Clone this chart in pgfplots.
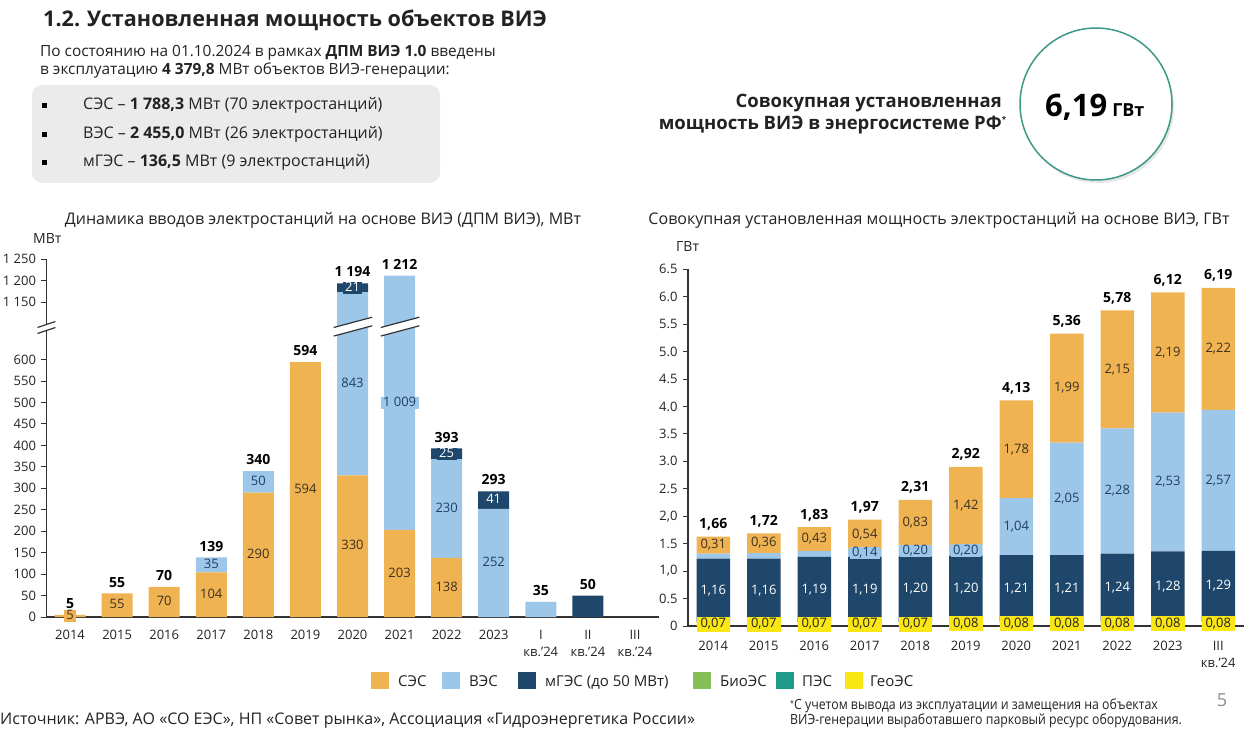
\documentclass[border=0pt]{standalone}
\usepackage{fontspec}
\setmainfont{Open Sans}
\newfontfamily\nfont{Open Sans}[FakeStretch=0.88]
\usepackage{pgfplots}
\usepackage{pgfplotstable}
\pgfplotsset{compat=1.18}
\usetikzlibrary{shadows}

\definecolor{ses}{HTML}{F0B352}
\definecolor{ves}{HTML}{9DC7E9}
\definecolor{mges}{HTML}{1F476B}
\definecolor{bio}{HTML}{86BF56}
\definecolor{pes}{HTML}{1E9C89}
\definecolor{geo}{HTML}{F9E614}
\definecolor{txt}{HTML}{222222}
\definecolor{sestxt}{HTML}{3D3020}
\definecolor{vestxt}{HTML}{1F3F66}
\definecolor{boxgray}{HTML}{EBEBEB}
\definecolor{ring}{HTML}{3C9A86}
\definecolor{axisc}{HTML}{333333}

\newcommand\fs[1]{\fontsize{#1}{#1}\selectfont}
\def\lbcol{white}
\NewDocumentCommand\lb{m}{{\setlength\fboxsep{0pt}\colorbox{\lbcol}{\hspace*{2.5pt}#1\hspace*{2.5pt}\rule[-2.5pt]{0pt}{12.5pt}}}}
\NewDocumentCommand\tb{m}{\textbf{#1}}
\NewDocumentCommand\no{}{}

% Left chart: inputs, MW. The ВЭС values of 2020 and 2021 are drawn above the
% axis break (scale shifted by 416 MW): 843 -> 427, 1009 -> 593.
\pgfplotstableread[col sep=semicolon]{
x;ses;ves;mges;sesl;vesl;mgesl;totl
0;5;0;0;\lb{5};\no;\no;\tb{5}
1;55;0;0;\lb{55};\no;\no;\tb{55}
2;70;0;0;\lb{70};\no;\no;\tb{70}
3;104;35;0;\lb{104};\lb{35};\no;\tb{139}
4;290;50;0;\lb{290};\lb{50};\no;\tb{340}
5;594;0;0;\lb{594};\no;\no;\tb{594}
6;330;427;21;\lb{330};\lb{843};\lb{21};\tb{1 194}
7;203;593;0;\lb{203};\lb{1 009};\no;\tb{1 212}
8;138;230;25;\lb{138};\lb{230};\lb{25};\tb{393}
9;0;252;41;\no;\lb{252};\lb{41};\tb{293}
10;0;35;0;\no;\no;\no;\tb{35}
11;0;0;50;\no;\no;\no;\tb{50}
12;0;0;0;\no;\no;\no;\no
}\leftdata

% Right chart: cumulative capacity, GW
\pgfplotstableread[col sep=semicolon]{
x;geo;mges;ves;ses;geol;mgesl;vesl;sesl;totl
0;0.07;1.16;0.09;0.31;0,07;\lb{1,16};\no;\lb{0,31};\tb{1,66}
1;0.07;1.16;0.10;0.36;0,07;\lb{1,16};\no;\lb{0,36};\tb{1,72}
2;0.07;1.19;0.11;0.43;0,07;\lb{1,19};\no;\lb{0,43};\tb{1,83}
3;0.07;1.19;0.14;0.54;0,07;\lb{1,19};\lb{0,14};\lb{0,54};\tb{1,97}
4;0.07;1.20;0.20;0.83;0,07;\lb{1,20};\lb{0,20};\lb{0,83};\tb{2,31}
5;0.08;1.20;0.20;1.42;0,08;\lb{1,20};\lb{0,20};\lb{1,42};\tb{2,92}
6;0.08;1.21;1.04;1.78;0,08;\lb{1,21};\lb{1,04};\lb{1,78};\tb{4,13}
7;0.08;1.21;2.05;1.99;0,08;\lb{1,21};\lb{2,05};\lb{1,99};\tb{5,36}
8;0.08;1.24;2.28;2.15;0,08;\lb{1,24};\lb{2,28};\lb{2,15};\tb{5,78}
9;0.08;1.28;2.53;2.19;0,08;\lb{1,28};\lb{2,53};\lb{2,19};\tb{6,12}
10;0.08;1.29;2.57;2.22;0,08;\lb{1,29};\lb{2,57};\lb{2,22};\tb{6,19}
}\rightdata

\pgfplotsset{
  leftgeom/.style={at={(46.5pt,112pt)}, anchor=south west, scale only axis,
    width=612pt, height=357.7pt, xmin=-0.5, xmax=12.5, ymin=0, ymax=834, clip=false},
  rightgeom/.style={at={(688pt,103pt)}, anchor=south west, scale only axis,
    width=555.5pt, height=356.7pt, xmin=-0.5, xmax=10.5, ymin=0, ymax=6.5, clip=false},
  common/.style={axis x line=bottom, axis y line=left,
    axis line style={-, line width=1.2pt, color=axisc},
    xtick style={draw=none}, ytick style={line width=1pt, color=axisc},
    tick align=outside, major tick length=5pt,
    xticklabel style={align=center, font=\fontsize{13}{17}\selectfont, text=txt, inner sep=1pt},
    yticklabel style={font=\fs{13}, text=txt, xshift=-2pt}},
  labels/.style={ybar, bar shift=0pt, bar width=1pt, hide axis},
  lab/.style={draw=none, fill=none, nodes near coords, point meta=explicit symbolic,
    every node near coord/.append style={anchor=center, inner sep=0pt, font=\fs{13},
      execute at begin node={\def\lbcol{#1}}}},
  tot/.style={draw=none, fill=none, nodes near coords, point meta=explicit symbolic,
    every node near coord/.append style={anchor=south, inner sep=0pt,
      font=\fs{14}, text=black, yshift=6pt}},
}

\begin{document}
\begin{tikzpicture}[x=1pt,y=1pt]
\useasboundingbox (0,0) rectangle (1248,729);

% ---------- header ----------
\node[anchor=base west,inner sep=0,text=txt] at (43,702) {\fs{21.6}\bfseries 1.2.\hspace{7pt}Установленная мощность объектов ВИЭ};
\node[anchor=base west,inner sep=0,text=txt] at (40,672) {\fs{15.4}По состоянию на 01.10.2024 в рамках \textbf{ДПМ ВИЭ 1.0} введены};
\node[anchor=base west,inner sep=0,text=txt] at (40,654) {\fs{15.4}в эксплуатацию \textbf{4 379,8} МВт объектов ВИЭ-генерации:};
\fill[boxgray, rounded corners=10pt] (32,546) rectangle (440,644);
\fill[black] (42,621) rectangle (46.5,625.5);
\fill[black] (42,592) rectangle (46.5,596.5);
\fill[black] (42,564) rectangle (46.5,568.5);
\node[anchor=base west,inner sep=0,text=txt] at (83,619) {\fs{16}СЭС – \textbf{1 788,3} МВт (70 электростанций)};
\node[anchor=base west,inner sep=0,text=txt] at (83,590) {\fs{16}ВЭС – \textbf{2 455,0} МВт (26 электростанций)};
\node[anchor=base west,inner sep=0,text=txt] at (83,562) {\fs{16}мГЭС – \textbf{136,5} МВт (9 электростанций)};

\node[anchor=base east,inner sep=0,text=txt] at (1002,621) {\fs{18.5}\bfseries Совокупная установленная};
\node[anchor=base east,inner sep=0,text=txt] at (1002,599) {\fs{18.5}\bfseries мощность ВИЭ в энергосистеме РФ\rlap{\raisebox{7pt}{\fs{8}*}}};
\draw[ring, line width=1.5pt, fill=white, drop shadow={opacity=0.2, shadow xshift=2pt, shadow yshift=-3pt}] (1096,625) circle (76);
\node[anchor=base west,inner sep=0,text=black] at (1045,612) {\fs{31}\bfseries 6,19\hspace{5pt}{\fs{18}ГВт}};

% ---------- chart titles ----------
\node[text=txt] at (323,509) {\fs{16}Динамика вводов электростанций на основе ВИЭ (ДПМ ВИЭ), МВт};
\node[anchor=west,inner sep=0,text=txt] at (33,490) {\fs{14}МВт};
\node[text=txt] at (939,509) {\fs{16}Совокупная установленная мощность электростанций на основе ВИЭ, ГВт};
\node[anchor=west,inner sep=0,text=txt] at (676,482) {\fs{14}ГВт};

% ---------- left chart: bars ----------
\begin{axis}[leftgeom, common, ybar stacked, bar width=31pt,
  xtick={0,...,12},
  xticklabels={2014,2015,2016,2017,2018,2019,2020,2021,2022,2023,{I\\кв.'24},{II\\кв.'24},{III\\кв.'24}},
  xticklabel style={yshift=-7pt},
  ytick={0,50,100,150,200,250,300,350,400,450,500,550,600,734,784,834},
  yticklabels={0,50,100,150,200,250,300,350,400,450,500,550,600,1 150,1 200,1 250}]
\addplot[fill=ses, draw=none] table[x=x,y=ses]{\leftdata};
\addplot[fill=ves, draw=none] table[x=x,y=ves]{\leftdata};
\addplot[fill=mges, draw=none] table[x=x,y=mges]{\leftdata};
\end{axis}
% ---------- left chart: labels and breaks ----------
\begin{axis}[leftgeom, labels]
\addplot[lab=ses, every node near coord/.append style={text=sestxt}]
  table[x=x, y expr=\thisrow{ses}/2, meta=sesl]{\leftdata};
\addplot[lab=ves, every node near coord/.append style={text=vestxt}]
  table[x=x, y expr=\thisrow{ses}+\thisrow{ves}/2, meta=vesl]{\leftdata};
\addplot[lab=mges, every node near coord/.append style={text=white}]
  table[x=x, y expr=\thisrow{ses}+\thisrow{ves}+\thisrow{mges}/2, meta=mgesl]{\leftdata};
\addplot[tot] table[x=x, y expr=\thisrow{ses}+\thisrow{ves}+\thisrow{mges}, meta=totl]{\leftdata};
% bar breaks
\fill[white] (axis cs:5.6,655) -- (axis cs:6.42,679) -- (axis cs:6.42,699) -- (axis cs:5.6,675) -- cycle;
\draw[line width=1.2pt, axisc] (axis cs:5.6,655) -- (axis cs:6.42,679) (axis cs:5.6,675) -- (axis cs:6.42,699);
\fill[white] (axis cs:6.6,655) -- (axis cs:7.42,679) -- (axis cs:7.42,699) -- (axis cs:6.6,675) -- cycle;
\draw[line width=1.2pt, axisc] (axis cs:6.6,655) -- (axis cs:7.42,679) (axis cs:6.6,675) -- (axis cs:7.42,699);
% axis break
\fill[white] (axis cs:-0.69,661) -- (axis cs:-0.31,675) -- (axis cs:-0.31,689) -- (axis cs:-0.69,675) -- cycle;
\draw[line width=1.2pt, axisc] (axis cs:-0.69,661) -- (axis cs:-0.31,675) (axis cs:-0.69,675) -- (axis cs:-0.31,689);
\end{axis}

% ---------- right chart: bars ----------
\begin{axis}[rightgeom, common, ybar stacked, bar width=33.5pt,
  xtick={0,...,10},
  xticklabels={2014,2015,2016,2017,2018,2019,2020,2021,2022,2023,{III\\кв.'24}},
  xticklabel style={yshift=-9pt},
  ytick={0,0.5,1,1.5,2,2.5,3,3.5,4,4.5,5,5.5,6,6.5},
  yticklabels={0,0.5,{1,0},1.5,{2,0},2.5,3.0,3.5,4.0,4.5,5.0,5.5,6.0,6.5}]
\addplot[fill=geo, draw=none] table[x=x,y=geo]{\rightdata};
\addplot[fill=mges, draw=none] table[x=x,y=mges]{\rightdata};
\addplot[fill=ves, draw=none] table[x=x,y=ves]{\rightdata};
\addplot[fill=ses, draw=none] table[x=x,y=ses]{\rightdata};
\end{axis}
% ---------- right chart: labels ----------
\begin{axis}[rightgeom, labels]
\addplot[lab=geo, every node near coord/.append style={fill=geo, text=txt, minimum width=33.5pt, minimum height=15pt}]
  table[x=x, y expr=\thisrow{geo}/2, meta=geol]{\rightdata};
\addplot[lab=mges, every node near coord/.append style={text=white}]
  table[x=x, y expr=\thisrow{geo}+\thisrow{mges}/2, meta=mgesl]{\rightdata};
\addplot[lab=ves, every node near coord/.append style={text=vestxt}]
  table[x=x, y expr=\thisrow{geo}+\thisrow{mges}+\thisrow{ves}/2, meta=vesl]{\rightdata};
\addplot[lab=ses, every node near coord/.append style={text=sestxt}]
  table[x=x, y expr=\thisrow{geo}+\thisrow{mges}+\thisrow{ves}+\thisrow{ses}/2, meta=sesl]{\rightdata};
\addplot[tot] table[x=x, y expr=\thisrow{geo}+\thisrow{mges}+\thisrow{ves}+\thisrow{ses}, meta=totl]{\rightdata};
\end{axis}

% ---------- legend ----------
\fill[ses] (371,40) rectangle (389,57);
\node[anchor=base west,inner sep=0,text=txt] at (398,43) {\fs{15}СЭС};
\fill[ves] (442,40) rectangle (460,57);
\node[anchor=base west,inner sep=0,text=txt] at (469,43) {\fs{15}ВЭС};
\fill[mges] (518,40) rectangle (536,57);
\node[anchor=base west,inner sep=0,text=txt] at (545,43) {\fs{15}мГЭС (до 50 МВт)};
\fill[bio] (693,40) rectangle (711,57);
\node[anchor=base west,inner sep=0,text=txt] at (720,43) {\fs{15}БиоЭС};
\fill[pes] (776,40) rectangle (794,57);
\node[anchor=base west,inner sep=0,text=txt] at (802,43) {\fs{15}ПЭС};
\fill[geo] (845,40) rectangle (863,57);
\node[anchor=base west,inner sep=0,text=txt] at (870,43) {\fs{15}ГеоЭС};

% ---------- footer ----------
\node[anchor=base west,inner sep=0,text=txt] at (0,5) {\fs{16}Источник: АРВЭ, АО «СО ЕЭС», НП «Совет рынка», Ассоциация «Гидроэнергетика России»};
\node[anchor=base west,inner sep=0,text=txt] at (790,20) {\nfont\fs{14}\raisebox{3pt}{\fs{8}*}С учетом вывода из эксплуатации и замещения на объектах};
\node[anchor=base west,inner sep=0,text=txt] at (790,5) {\nfont\fs{14}ВИЭ-генерации выработавшего парковый ресурс оборудования.};
\node[text=black!45] at (1222,29) {\fs{18}5};
\end{tikzpicture}
\end{document}
